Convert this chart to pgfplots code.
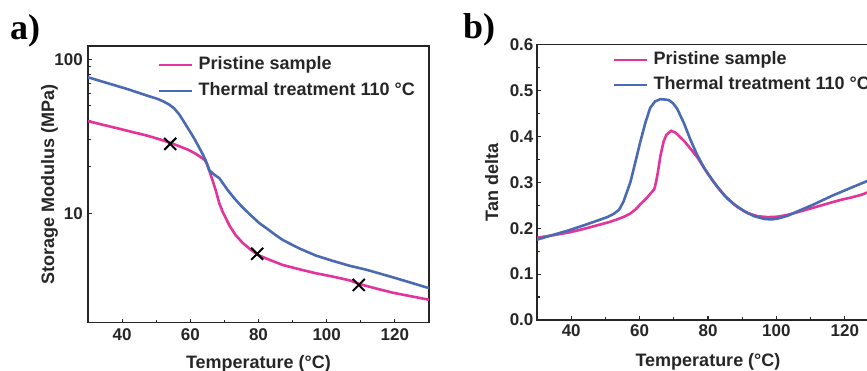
\documentclass[border=0pt]{standalone}
\usepackage{pgfplots}
\pgfplotsset{compat=1.18}
\usepackage{fontspec}
\setmainfont{Liberation Sans}
\newfontfamily\serifbf{Liberation Serif}
\definecolor{pinkc}{HTML}{E2349A}
\definecolor{bluec}{HTML}{4A6AB1}
\definecolor{axc}{HTML}{262626}

\pgfplotsset{
  common/.style={
    scale only axis,
    anchor=south west,
    axis line style={axc, line width=1.6pt},
    tick align=inside,
    tick pos=left,
    major tick length=4pt,
    minor tick length=2.5pt,
    every tick/.style={axc, line width=1.1pt},
    tick label style={font=\fontsize{17}{20}\selectfont\bfseries, text=axc},
    /pgf/number format/assume math mode=true,
    label style={font=\fontsize{18}{21}\selectfont\bfseries, text=axc},
    legend style={draw=none, fill=none, inner sep=0pt, outer sep=0pt,
      font=\fontsize{18}{21}\selectfont\bfseries, text=axc,
      nodes={inner sep=0pt, text height=13pt, text depth=4pt},
      column sep=5pt, anchor=north west},
    legend cell align=left,
    legend image code/.code={\draw[#1] (0pt,0pt) -- (33pt,0pt);},
    xmin=30, xmax=130, xtick={40,60,80,100,120}, minor x tick num=1,
    xticklabel style={anchor=base},
  },
}

\begin{document}
\begin{tikzpicture}
\useasboundingbox (0pt,0pt) rectangle (867pt,371pt);
\clip (0pt,0pt) rectangle (867pt,371pt);

\node[anchor=base west, inner sep=0pt, font=\serifbf\fontsize{36}{40}\selectfont\bfseries] at (10pt,331pt) {a)};
\node[anchor=base west, inner sep=0pt, font=\serifbf\fontsize{36}{40}\selectfont\bfseries] at (463pt,332.7pt) {b)};

% ---------------- panel a ----------------
\begin{axis}[common, at={(88pt,48.5pt)}, width=341pt, height=276.5pt,
  ymode=log, ymin=1.95, ymax=122, ytick={10,100}, yticklabels={10,100},
  xticklabel style={yshift=-18.2pt},
  yticklabel style={anchor=east, inner sep=0pt, xshift=-5pt},
  xlabel={Temperature (°C)}, ylabel={Storage Modulus (MPa)},
  xlabel style={at={(axis description cs:0.5,-0.1646)}, anchor=base},
  ylabel style={at={(axis description cs:-0.0997,0.5)}, anchor=base},
  legend style={at={(0.205,0.962)}, row sep=9pt}]
\addplot[pinkc, line width=2.6pt] coordinates {
(30,39.7) (34.9,37.3) (39.8,35.1) (43.7,33.4) (47.6,31.8) (51,30.2) (54.5,28.5)
(57,27.1) (59.4,25.8) (61.5,24.4) (63.5,22.8) (64.3,22.0) (64.8,21.1)
(65.6,18.8) (66.5,16.4) (67.5,14.0) (68.5,11.6) (69.5,10.2) (70.5,9.2)
(71.5,8.3) (73.3,7.2) (75.4,6.4) (77.5,5.85) (79.8,5.36) (83.5,4.95)
(87.1,4.61) (92,4.32) (96.9,4.07) (101.9,3.87) (106.8,3.66) (109.7,3.46)
(115,3.22) (119.5,3.04) (125,2.88) (130,2.74)};
\addlegendentry{Pristine sample}
\addplot[bluec, line width=2.6pt] coordinates {
(30,76.4) (35.9,69.8) (41.8,63.8) (47.6,57.8) (50.5,55.2) (52.2,53.1)
(53.8,50.8) (55.2,48.1) (56.7,44) (58.1,39.4) (59.6,34.8) (61.1,30.7)
(62.4,27.2) (63.5,24.5) (64.4,22.3) (65,20.6) (65.6,19.0) (66.5,18.2)
(67.5,17.5) (68.5,16.9) (69.7,15.5) (70.9,14.2) (72.9,12.5) (75,11.1)
(77.3,9.9) (80.3,8.6) (82.3,8.0) (84.7,7.3) (87.1,6.7) (92,5.9)
(96.9,5.3) (101.8,4.9) (106.8,4.55) (111.7,4.29) (116,4.03) (120,3.8)
(125,3.52) (130,3.26)};
\addlegendentry{Thermal treatment 110 °C}
\addplot[only marks, mark=x, mark size=8.5pt, mark options={black, line width=2pt}, forget plot]
coordinates {(54.1,28.2) (79.6,5.45) (109.4,3.42)};
\end{axis}

% ---------------- panel b ----------------
\begin{axis}[common, at={(537pt,51pt)}, width=342pt, height=275.5pt,
  ymin=0, ymax=0.6, ytick={0,0.1,0.2,0.3,0.4,0.5,0.6},
  yticklabels={0.0,0.1,0.2,0.3,0.4,0.5,0.6}, minor y tick num=1,
  xticklabel style={yshift=-16.7pt},
  yticklabel style={anchor=east, inner sep=0pt, xshift=-3.4pt},
  xlabel={Temperature (°C)}, ylabel={Tan delta},
  xlabel style={at={(axis description cs:0.5,-0.1695)}, anchor=base},
  ylabel style={at={(axis description cs:-0.114,0.5)}, anchor=base},
  legend style={at={(0.222,0.975)}, row sep=8pt}]
\addplot[pinkc, line width=2.6pt] coordinates {
(30,0.179) (35,0.185) (39.6,0.191) (44,0.199) (47.5,0.206) (51,0.213)
(53.4,0.219) (55.5,0.225) (57.3,0.232) (59,0.242) (60.2,0.252) (62,0.265)
(63.6,0.279) (64.3,0.285) (64.8,0.300) (65.3,0.320) (66.1,0.358) (67,0.388)
(67.8,0.403) (69.2,0.412) (70.5,0.408) (73,0.390) (75,0.372) (76.9,0.354)
(79.8,0.320) (82.8,0.289) (85.7,0.264) (88.6,0.246) (91.5,0.233) (94.5,0.226)
(97.5,0.224) (100.4,0.225) (103.3,0.229) (106.3,0.235) (111,0.245)
(116.1,0.256) (119,0.262) (122,0.267) (125,0.273) (127,0.279) (130,0.287)};
\addlegendentry{Pristine sample}
\addplot[bluec, line width=2.6pt] coordinates {
(30,0.175) (35,0.186) (39.6,0.196) (44,0.207) (47.5,0.216) (50.5,0.224)
(52.4,0.231) (54,0.240) (55.3,0.258) (57.3,0.300) (58.8,0.345) (60.2,0.388)
(61.7,0.430) (63.1,0.462) (64.5,0.476) (66.1,0.481) (67.5,0.480) (68.5,0.479)
(69.8,0.472) (71,0.460) (73,0.428) (74.9,0.392) (76.8,0.360) (78.8,0.332)
(81.7,0.300) (84.7,0.272) (87.6,0.252) (90.6,0.237) (93.5,0.226) (96.5,0.220)
(98.5,0.219) (100.4,0.221) (103.3,0.227) (106.3,0.237) (111,0.252)
(116.1,0.270) (121.5,0.287) (127,0.304) (130,0.314)};
\addlegendentry{Thermal treatment 110 °C}
\end{axis}
\end{tikzpicture}
\end{document}
